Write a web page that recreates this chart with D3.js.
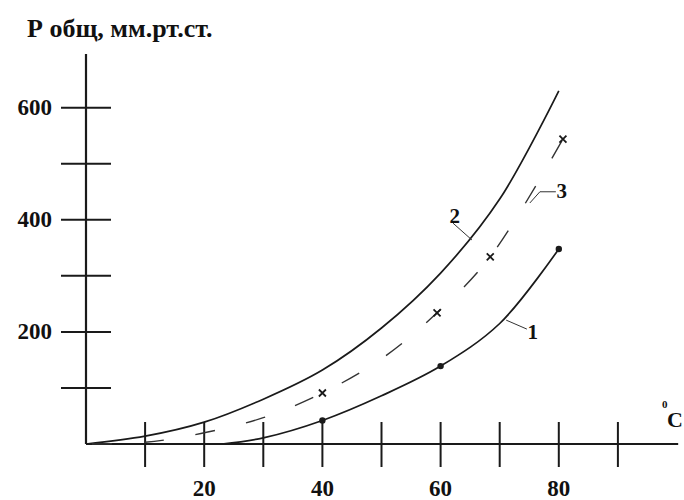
<!DOCTYPE html>
<html>
<head>
<meta charset="utf-8">
<script src="https://cdn.jsdelivr.net/npm/d3@7"></script>
<style>
  html, body { margin: 0; padding: 0; background: #fff; }
  svg { display: block; }
  text { font-family: "Liberation Serif", "Times New Roman", serif; font-weight: bold; fill: #111; }
</style>
</head>
<body>
<svg id="chart" width="684" height="500"></svg>
<script>
// ---- data ----
const title = "Р общ, мм.рт.ст.";
const unitSup = "0";
const unitLabel = "C";

const xTicks = [10, 20, 30, 40, 50, 60, 70, 80, 90];
const xTickLabels = [20, 40, 60, 80];
const yTicks = [100, 200, 300, 400, 500, 600];
const yTickLabels = [200, 400, 600];

// curve 1 (solid, dots)
const t1 = [23, 30, 40, 50, 60, 70, 80];
const p1 = [0, 11, 42, 86, 139, 215, 348];
const dotT1 = [40, 60, 80];
const dotP1 = [42, 139, 348];

// curve 2 (solid)
const t2 = [0, 10, 20, 30, 40, 50, 60, 70, 80];
const p2 = [0, 14, 39, 80, 132, 207, 305, 437, 630];

// curve 3 (dashed, crosses)
const t3 = [0, 10, 20, 30, 40, 50, 59.4, 68.4, 80.7];
const p3 = [0, 3, 20, 47, 91, 152, 234, 334, 544];
const crossT3 = [40, 59.4, 68.4, 80.7];
const crossP3 = [91, 234, 334, 544];

// curve labels: text, anchor (t,p), leader path points (t,p)
const curveLabels = ["1", "2", "3"];
const labelT = [75.6, 62.4, 80.5];
const labelP = [200, 407, 451];
const leaders = [
  [[71.1, 221], [74.6, 205]],
  [[62.1, 394], [65.3, 364]],
  [[75.1, 430], [76.8, 450], [79.5, 450]]
];

// ---- drawing ----
const svg = d3.select("#chart");
const x = d3.scaleLinear().domain([0, 100]).range([86, 677]);
const y = d3.scaleLinear().domain([0, 700]).range([444, 51.65]);
const ink = "#1a1a1a";

// title
svg.append("text").attr("x", 27).attr("y", 37)
  .style("font-size", "26px").text(title);

// axes lines
svg.append("line").attr("x1", x(0)).attr("x2", x(100.2))
  .attr("y1", y(0)).attr("y2", y(0))
  .attr("stroke", ink).attr("stroke-width", 2.2);
svg.append("line").attr("x1", x(0)).attr("x2", x(0))
  .attr("y1", y(0)).attr("y2", y(696))
  .attr("stroke", ink).attr("stroke-width", 2.2);

// x ticks (crossing)
svg.append("g").selectAll("line").data(xTicks).join("line")
  .attr("x1", d => x(d)).attr("x2", d => x(d))
  .attr("y1", y(0) - 22).attr("y2", y(0) + 23)
  .attr("stroke", ink).attr("stroke-width", 2);
svg.append("g").selectAll("text").data(xTickLabels).join("text")
  .attr("x", d => x(d)).attr("y", 496)
  .attr("text-anchor", "middle")
  .style("font-size", "23px").text(d => d);

// y ticks (crossing)
svg.append("g").selectAll("line").data(yTicks).join("line")
  .attr("y1", d => y(d)).attr("y2", d => y(d))
  .attr("x1", x(0) - 25).attr("x2", x(0) + 25)
  .attr("stroke", ink).attr("stroke-width", 2);
svg.append("g").selectAll("text").data(yTickLabels).join("text")
  .attr("x", 52).attr("y", d => y(d) + 7)
  .attr("text-anchor", "end")
  .style("font-size", "23px").text(d => d);

// unit label
svg.append("text").attr("x", 662).attr("y", 408)
  .style("font-size", "11px").text(unitSup);
svg.append("text").attr("x", 667).attr("y", 427)
  .style("font-size", "22px").text(unitLabel);

// curves
const line = d3.line().x(d => x(d[0])).y(d => y(d[1])).curve(d3.curveCatmullRom.alpha(0.5));
const zip = (a, b) => a.map((v, i) => [v, b[i]]);

svg.append("path").attr("d", line(zip(t1, p1)))
  .attr("fill", "none").attr("stroke", ink).attr("stroke-width", 1.7);
svg.append("path").attr("d", line(zip(t2, p2)))
  .attr("fill", "none").attr("stroke", ink).attr("stroke-width", 1.7);
svg.append("path").attr("d", line(zip(t3, p3)))
  .attr("fill", "none").attr("stroke", "#333").attr("stroke-width", 1.4)
  .attr("stroke-dasharray", "20,32").attr("stroke-dashoffset", "-6");

// dots on curve 1
svg.append("g").selectAll("circle").data(zip(dotT1, dotP1)).join("circle")
  .attr("cx", d => x(d[0])).attr("cy", d => y(d[1])).attr("r", 3.2)
  .attr("fill", ink);

// crosses on curve 3
const cs = 3.5;
svg.append("g").selectAll("path").data(zip(crossT3, crossP3)).join("path")
  .attr("d", d => {
    const cx = x(d[0]), cy = y(d[1]);
    return `M${cx - cs},${cy - cs}L${cx + cs},${cy + cs}M${cx - cs},${cy + cs}L${cx + cs},${cy - cs}`;
  })
  .attr("stroke", ink).attr("stroke-width", 1.8).attr("fill", "none");

// curve labels & leaders
const leaderLine = d3.line().x(d => x(d[0])).y(d => y(d[1]));
svg.append("g").selectAll("path").data(leaders).join("path")
  .attr("d", d => leaderLine(d))
  .attr("fill", "none").attr("stroke", "#333").attr("stroke-width", 1);
svg.append("g").selectAll("text").data(curveLabels).join("text")
  .attr("x", (d, i) => x(labelT[i])).attr("y", (d, i) => y(labelP[i]) + 7)
  .attr("text-anchor", "middle")
  .style("font-size", "21px").text(d => d);
</script>
</body>
</html>
